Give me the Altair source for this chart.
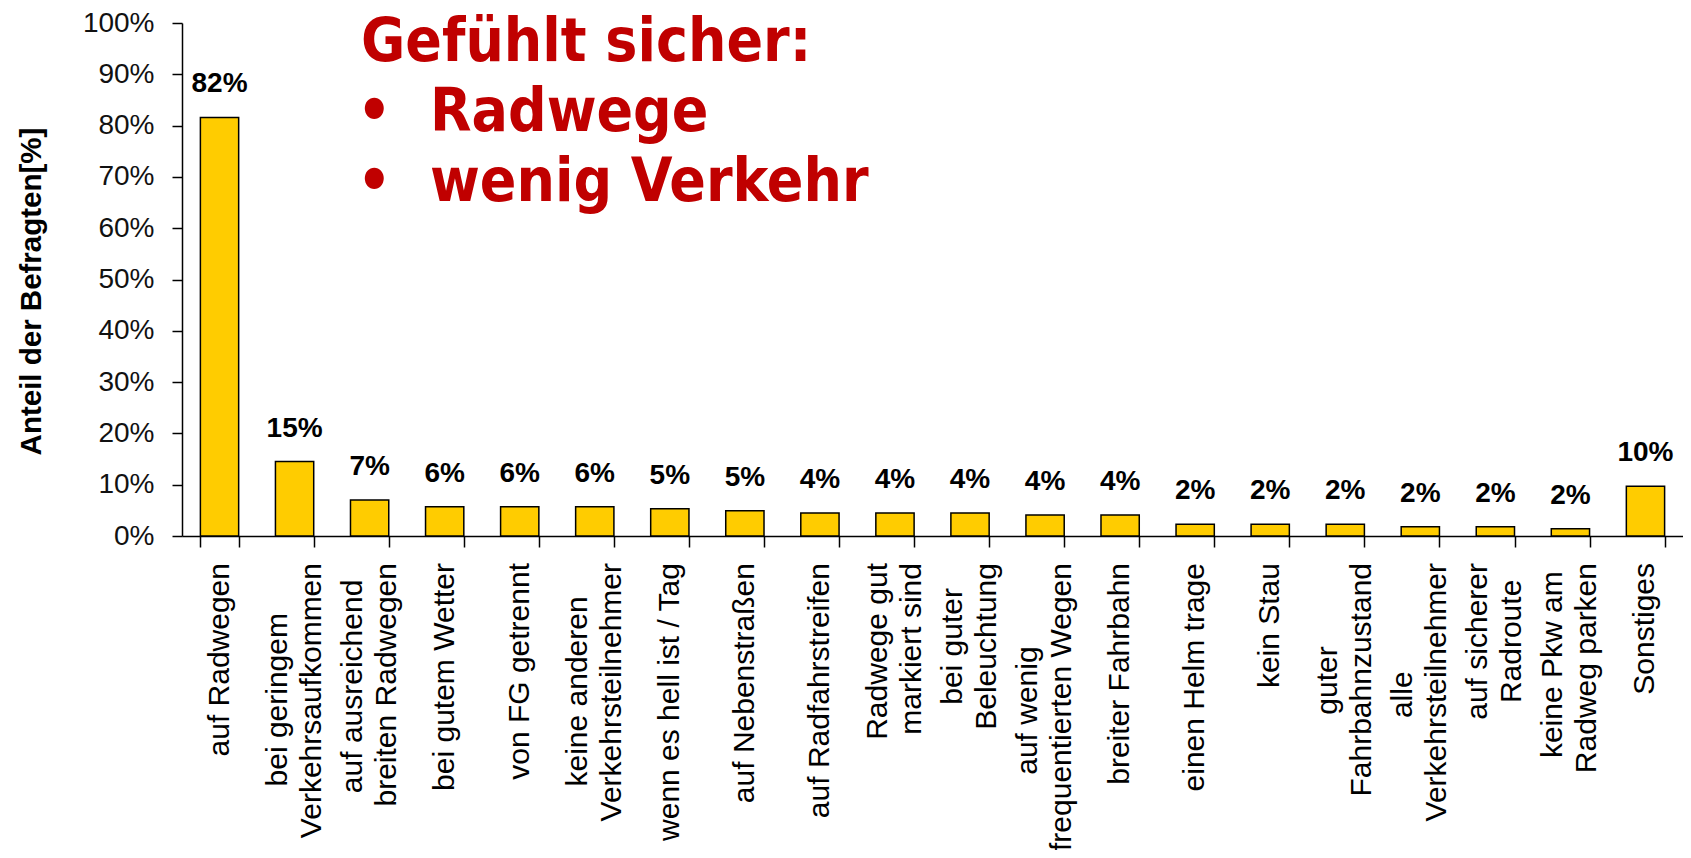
import altair as alt
import pandas as pd

# ---------------- data ----------------
categories = [
    "auf Radwegen",
    "bei geringem\nVerkehrsaufkommen",
    "auf ausreichend\nbreiten Radwegen",
    "bei gutem Wetter",
    "von FG getrennt",
    "keine anderen\nVerkehrsteilnehmer",
    "wenn es hell ist / Tag",
    "auf Nebenstraßen",
    "auf Radfahrstreifen",
    "Radwege gut\nmarkiert sind",
    "bei guter\nBeleuchtung",
    "auf wenig\nfrequentierten Wegen",
    "breiter Fahrbahn",
    "einen Helm trage",
    "kein Stau",
    "guter\nFahrbahnzustand",
    "alle\nVerkehrsteilnehmer",
    "auf sicherer\nRadroute",
    "keine Pkw am\nRadweg parken",
    "Sonstiges",
]
values = [81.6, 14.5, 7.0, 5.7, 5.7, 5.7, 5.3, 4.9, 4.5, 4.5,
          4.5, 4.1, 4.1, 2.3, 2.3, 2.3, 1.8, 1.8, 1.4, 9.7]
value_labels = ["82%", "15%", "7%", "6%", "6%", "6%", "5%", "5%", "4%", "4%",
                "4%", "4%", "4%", "2%", "2%", "2%", "2%", "2%", "2%", "10%"]
y_ticks = [0, 10, 20, 30, 40, 50, 60, 70, 80, 90, 100]
y_title = "Anteil der Befragten[%]"
headline = "Gefühlt sicher:"
bullets = ["Radwege", "wenig Verkehr"]

# ---------------- label layout helper (centre lines of a label block) ----------------
ARIAL = {
    "a": .556, "b": .556, "c": .5, "d": .556, "e": .556, "f": .278, "g": .556,
    "h": .556, "i": .222, "j": .222, "k": .5, "l": .222, "m": .833, "n": .556,
    "o": .556, "p": .556, "q": .556, "r": .333, "s": .5, "t": .278, "u": .556,
    "v": .5, "w": .722, "x": .5, "y": .5, "z": .5, "ß": .611, " ": .278,
    "A": .667, "B": .667, "F": .611, "G": .778, "H": .722, "P": .667, "R": .722,
    "S": .667, "T": .611, "V": .667, "W": .944, "/": .278,
}


def text_width(s):
    return sum(ARIAL.get(c, .556) for c in s)


keys = [c.replace("\n", " ") for c in categories]
df = pd.DataFrame({"cat": keys, "value": values, "label": value_labels})

rows = []
for key, c in zip(keys, categories):
    lines = c.split("\n")
    if len(lines) == 1:
        rows.append({"cat": key, "line": lines[0], "grp": "single"})
        continue
    wmax = max(text_width(l) for l in lines)
    for i, l in enumerate(lines):
        n = int(round((wmax - text_width(l)) / 2 / .278))
        txt = l + ("\u00a0" * n + "\u2060" if n > 0 else "")
        rows.append({"cat": key, "line": txt, "grp": "first" if i == 0 else "second"})
lab_df = pd.DataFrame(rows)

FONT = "Liberation Sans, Arial, sans-serif"
RED = "#C00000"
LH = 34

x_scale = alt.Scale(domain=keys, paddingInner=0.49, paddingOuter=0.245)
x_axis = alt.Axis(
    title=None, labels=False, tickSize=11, tickBand="extent",
    tickColor="black", tickWidth=1.5, domainColor="black", domainWidth=1.5,
)
x_enc = alt.X("cat:N", scale=x_scale, axis=x_axis)
y_enc = alt.Y(
    "value:Q",
    scale=alt.Scale(domain=[0, 100], nice=False),
    axis=alt.Axis(
        values=y_ticks, labelExpr="datum.value + '%'", grid=False,
        labelFont=FONT, labelFontSize=28, labelColor="#111111", labelPadding=18,
        tickSize=10, tickColor="black", tickWidth=1.5,
        domainColor="black", domainWidth=1.5,
        title=y_title, titleFont=FONT, titleFontSize=29.5, titleFontWeight="bold",
        titleColor="black", titleAngle=270, titleAlign="center",
        titleBaseline="alphabetic", titleX=-142, titleY=268,
    ),
)

base = alt.Chart(df)
bars = base.mark_bar(color="#FFCC00", stroke="black", strokeWidth=1.5).encode(x=x_enc, y=y_enc)
texts = base.mark_text(dy=-25, baseline="alphabetic", font=FONT, fontSize=28,
                       fontWeight="bold", color="black").encode(x=x_enc, y=y_enc, text="label:N")


def cat_labels(grp, dy):
    return alt.Chart(lab_df).transform_filter(
        alt.datum.grp == grp
    ).mark_text(
        angle=270, align="right", baseline="middle", font=FONT, fontSize=30,
        color="black", dy=dy,
    ).encode(x=x_enc, y=alt.value(540), text="line:N")


HFONT = "DejaVu Sans Condensed, DejaVu Sans, sans-serif"


def ann(txt, xv, yv):
    return alt.Chart(pd.DataFrame({"t": [txt]})).mark_text(
        align="left", baseline="alphabetic", font=HFONT, fontSize=60,
        fontWeight="bold", color=RED,
    ).encode(x=alt.value(xv), y=alt.value(yv), text="t:N")


layers = [bars, texts,
          cat_labels("single", 0), cat_labels("first", -LH / 2), cat_labels("second", LH / 2),
          ann(headline, 179, 38)]
for i, b in enumerate(bullets):
    yv = 108 + 70 * i
    layers.append(ann("•", 175, yv))
    layers.append(ann(b, 248, yv))

chart = alt.layer(*layers).properties(
    width=1501, height=513,
    autosize=alt.AutoSizeParams(type="none"),
    padding={"left": 174, "top": 15, "right": 0, "bottom": 314},
    background="white",
).configure_view(stroke=None)

chart.save("out.html", embed_options={"renderer": "svg", "actions": False})
